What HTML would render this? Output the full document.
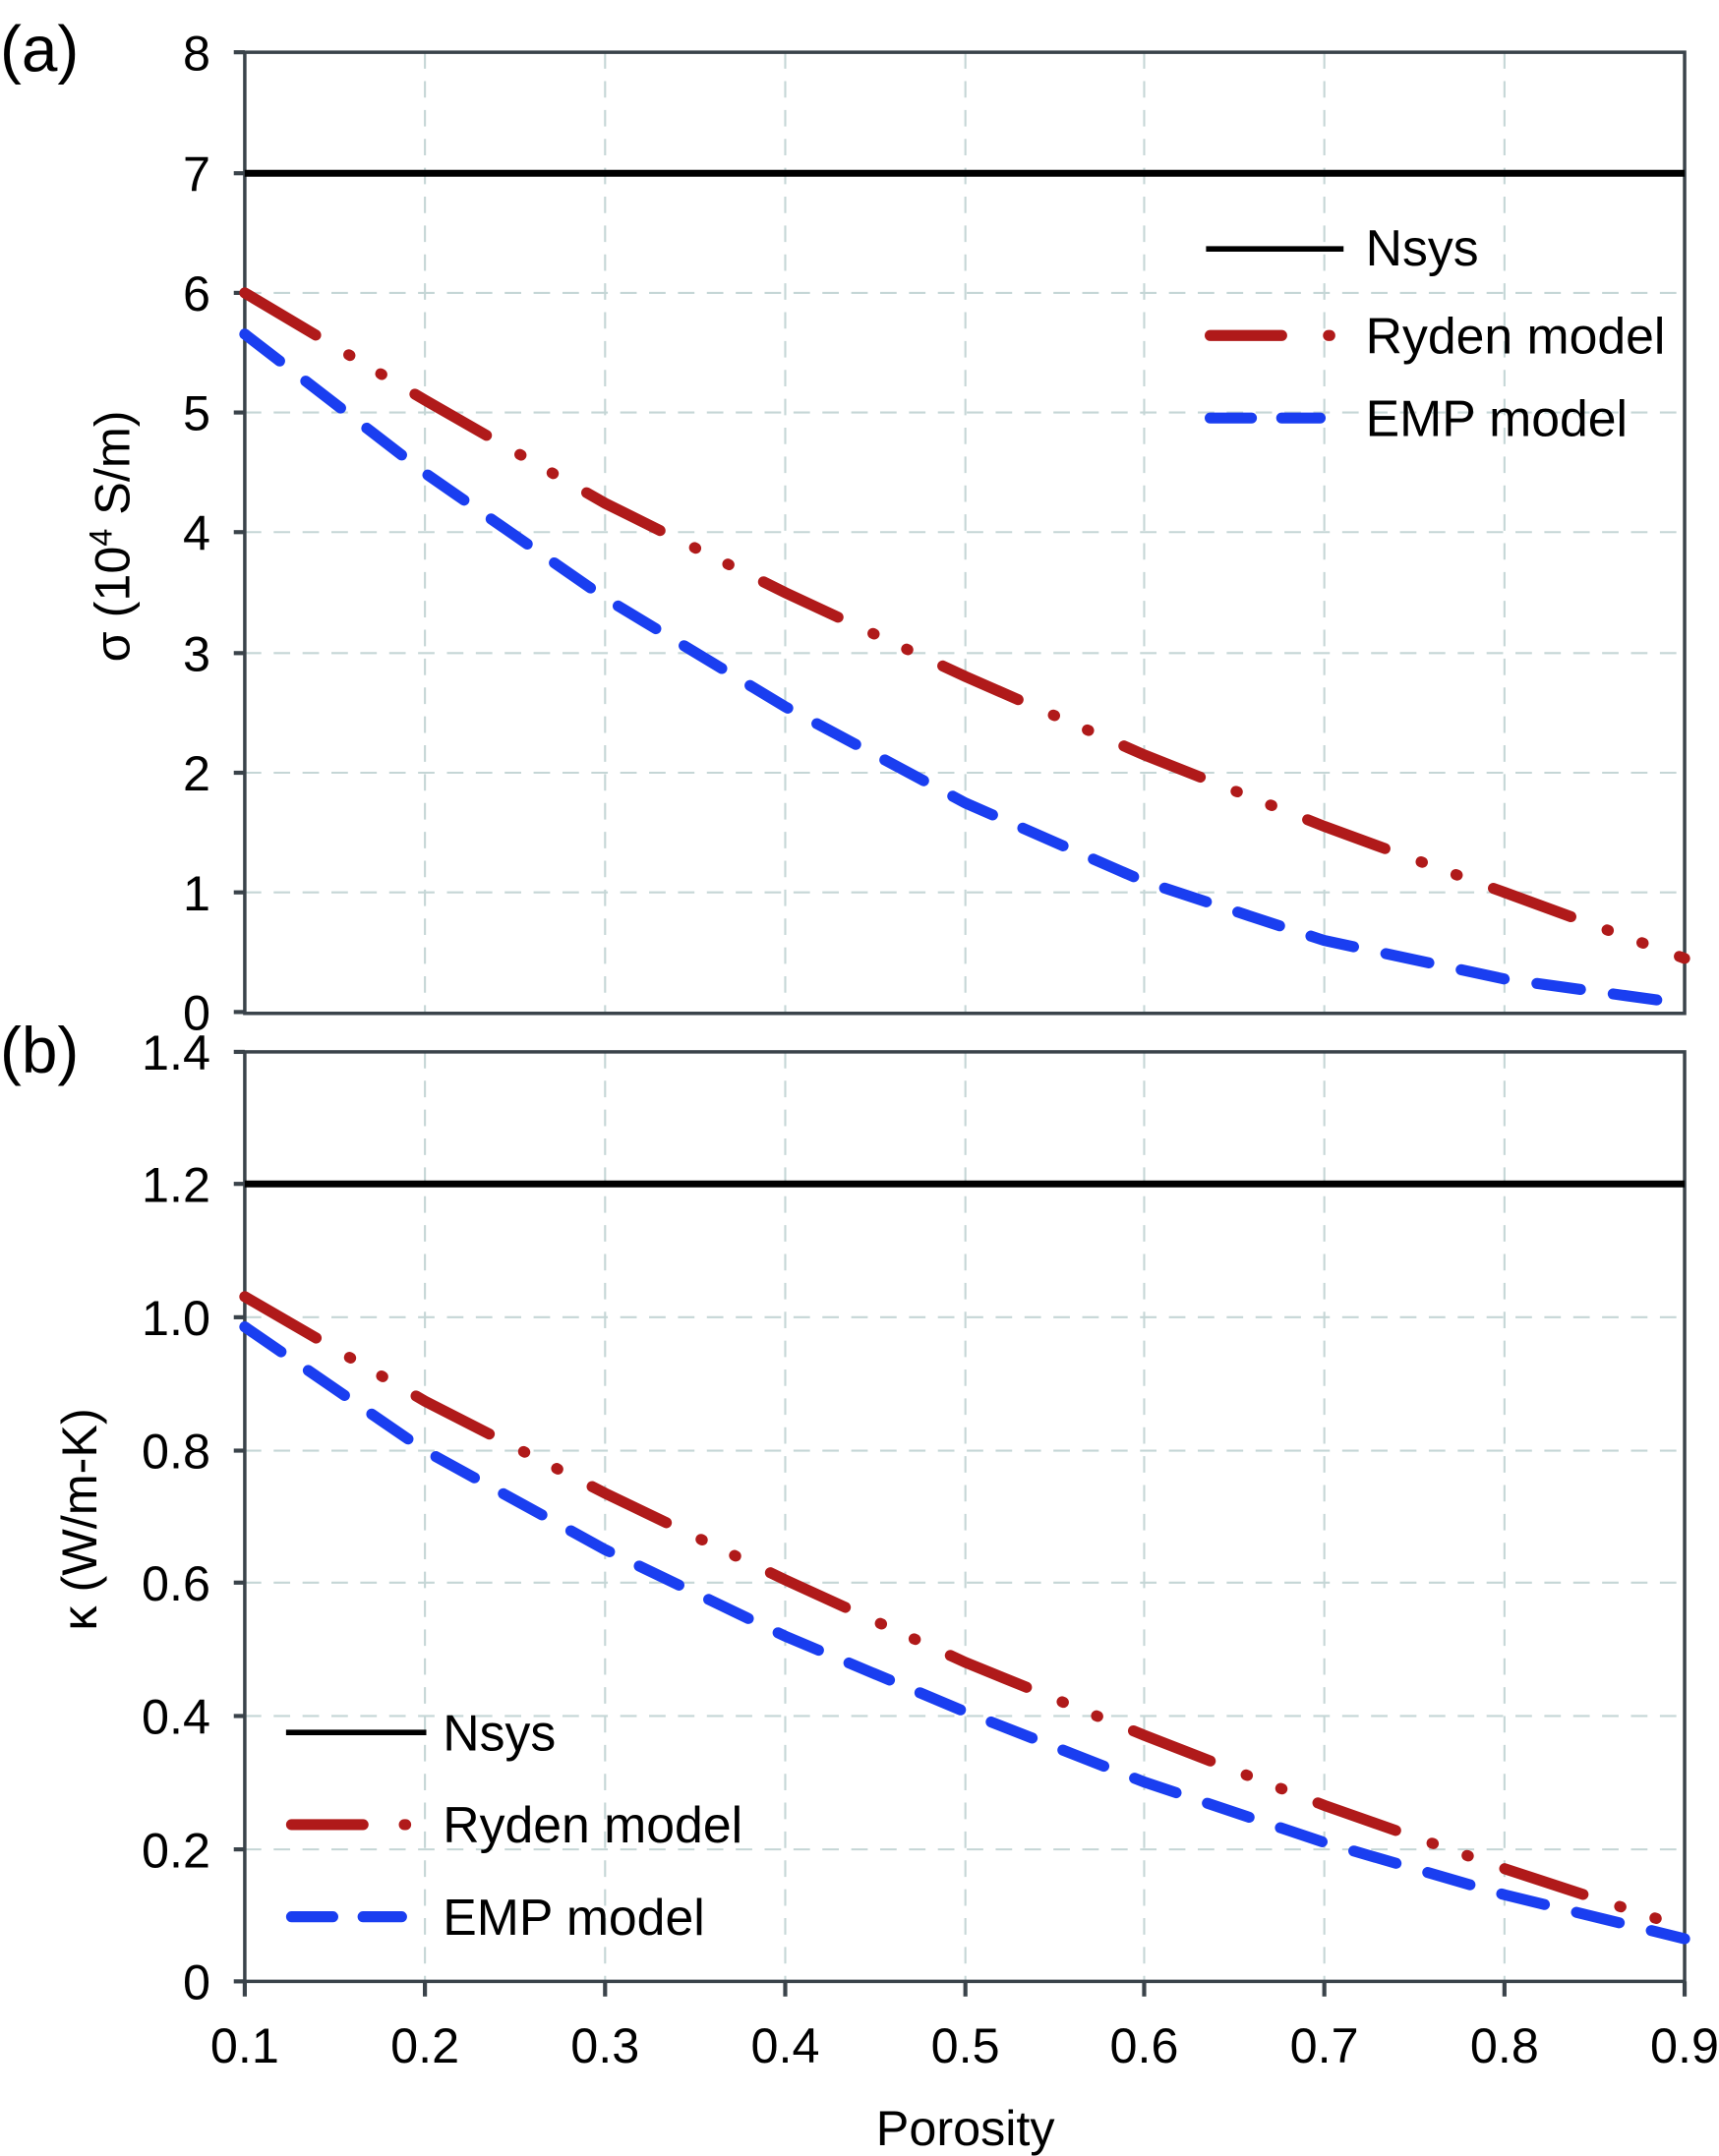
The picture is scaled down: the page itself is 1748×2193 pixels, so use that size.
<!DOCTYPE html>
<html><head><style>body{margin:0;background:#fff}svg{display:block}</style></head><body>
<svg width="1748" height="2193" viewBox="0 0 1250 1568" preserveAspectRatio="none" xmlns="http://www.w3.org/2000/svg" font-family="Liberation Sans, sans-serif">
<g stroke="#c5d6d6" stroke-width="1.5" stroke-dasharray="12 9">
<line x1="309" y1="38" x2="309" y2="737"/><line x1="440" y1="38" x2="440" y2="737"/><line x1="571" y1="38" x2="571" y2="737"/><line x1="702" y1="38" x2="702" y2="737"/><line x1="832" y1="38" x2="832" y2="737"/><line x1="963" y1="38" x2="963" y2="737"/><line x1="1094" y1="38" x2="1094" y2="737"/>
<line x1="178" y1="213" x2="1225" y2="213"/><line x1="178" y1="300" x2="1225" y2="300"/><line x1="178" y1="387" x2="1225" y2="387"/><line x1="178" y1="475" x2="1225" y2="475"/><line x1="178" y1="562" x2="1225" y2="562"/><line x1="178" y1="649" x2="1225" y2="649"/>
<line x1="309" y1="765" x2="309" y2="1441"/><line x1="440" y1="765" x2="440" y2="1441"/><line x1="571" y1="765" x2="571" y2="1441"/><line x1="702" y1="765" x2="702" y2="1441"/><line x1="832" y1="765" x2="832" y2="1441"/><line x1="963" y1="765" x2="963" y2="1441"/><line x1="1094" y1="765" x2="1094" y2="1441"/>
<line x1="178" y1="958" x2="1225" y2="958"/><line x1="178" y1="1055" x2="1225" y2="1055"/><line x1="178" y1="1151" x2="1225" y2="1151"/><line x1="178" y1="1248" x2="1225" y2="1248"/><line x1="178" y1="1345" x2="1225" y2="1345"/>
</g>
<g fill="none" stroke="#3a434a" stroke-width="2.5">
<rect x="178" y="38" width="1047" height="699"/>
<rect x="178" y="765" width="1047" height="676"/>
</g>
<g stroke="#3a434a" stroke-width="3">
<line x1="170" y1="38" x2="178" y2="38"/><line x1="170" y1="126" x2="178" y2="126"/><line x1="170" y1="213" x2="178" y2="213"/><line x1="170" y1="300" x2="178" y2="300"/><line x1="170" y1="387" x2="178" y2="387"/><line x1="170" y1="475" x2="178" y2="475"/><line x1="170" y1="562" x2="178" y2="562"/><line x1="170" y1="649" x2="178" y2="649"/><line x1="170" y1="736" x2="178" y2="736"/>
<line x1="170" y1="765" x2="178" y2="765"/><line x1="170" y1="861" x2="178" y2="861"/><line x1="170" y1="958" x2="178" y2="958"/><line x1="170" y1="1055" x2="178" y2="1055"/><line x1="170" y1="1151" x2="178" y2="1151"/><line x1="170" y1="1248" x2="178" y2="1248"/><line x1="170" y1="1345" x2="178" y2="1345"/><line x1="170" y1="1441" x2="178" y2="1441"/>
<line x1="178" y1="1441" x2="178" y2="1452"/><line x1="309" y1="1441" x2="309" y2="1452"/><line x1="440" y1="1441" x2="440" y2="1452"/><line x1="571" y1="1441" x2="571" y2="1452"/><line x1="702" y1="1441" x2="702" y2="1452"/><line x1="832" y1="1441" x2="832" y2="1452"/><line x1="963" y1="1441" x2="963" y2="1452"/><line x1="1094" y1="1441" x2="1094" y2="1452"/><line x1="1225" y1="1441" x2="1225" y2="1452"/>
</g>
<g font-size="36" fill="#000" text-anchor="end">
<text x="153" y="51">8</text><text x="153" y="139">7</text><text x="153" y="226">6</text><text x="153" y="313">5</text><text x="153" y="400">4</text><text x="153" y="488">3</text><text x="153" y="575">2</text><text x="153" y="662">1</text><text x="153" y="749">0</text>
<text x="153" y="778">1.4</text><text x="153" y="874">1.2</text><text x="153" y="971">1.0</text><text x="153" y="1068">0.8</text><text x="153" y="1164">0.6</text><text x="153" y="1261">0.4</text><text x="153" y="1358">0.2</text><text x="153" y="1454">0</text>
</g>
<g font-size="36" fill="#000" text-anchor="middle">
<text x="178" y="1500">0.1</text><text x="309" y="1500">0.2</text><text x="440" y="1500">0.3</text><text x="571" y="1500">0.4</text><text x="702" y="1500">0.5</text><text x="832" y="1500">0.6</text><text x="963" y="1500">0.7</text><text x="1094" y="1500">0.8</text><text x="1225" y="1500">0.9</text>
<text x="702" y="1560">Porosity</text>
<text transform="translate(94,390) rotate(-90)">σ (10<tspan font-size="23" dy="-13">4</tspan><tspan dy="13"> S/m)</tspan></text>
<text transform="translate(70,1105) rotate(-90)">κ (W/m-K)</text>
</g>
<text x="0" y="52" font-size="47">(a)</text>
<text x="0" y="780" font-size="47">(b)</text>
<line x1="178" y1="126" x2="1225" y2="126" stroke="#000" stroke-width="5"/>
<line x1="178" y1="861" x2="1225" y2="861" stroke="#000" stroke-width="5"/>
<g fill="none" stroke-width="8" stroke-linecap="round">
<polyline stroke="#b01a1a" stroke-dasharray="60 28 1 26 1 28" points="178,213 309,291 440,366 571,431 702,492 832,549 963,601 1094,649 1225,697"/>
<polyline stroke="#1a3ef0" stroke-dasharray="32 24" points="178,243 309,344 440,435 571,514 702,584 832,641 963,684 1094,712 1225,730"/>
<polyline stroke="#b01a1a" stroke-dasharray="60 28 1 26 1 28" points="178,943 309,1019 440,1086 571,1149 702,1209 832,1262 963,1313 1094,1359 1225,1402"/>
<polyline stroke="#1a3ef0" stroke-dasharray="32 24" points="178,965 309,1055 440,1127 571,1190 702,1245 832,1296 963,1340 1094,1378 1225,1410"/>
</g>
<line x1="877" y1="181" x2="977" y2="181" stroke="#000" stroke-width="4"/>
<line x1="880" y1="244" x2="967" y2="244" stroke="#b01a1a" stroke-width="8" stroke-linecap="round" stroke-dasharray="52 34 1 40"/>
<line x1="880" y1="304" x2="960" y2="304" stroke="#1a3ef0" stroke-width="8" stroke-linecap="round" stroke-dasharray="30 22"/>
<g font-size="37" fill="#000"><text x="993" y="193">Nsys</text><text x="993" y="257">Ryden model</text><text x="993" y="317">EMP model</text></g>
<line x1="208" y1="1260" x2="310" y2="1260" stroke="#000" stroke-width="4"/>
<line x1="212" y1="1327" x2="295" y2="1327" stroke="#b01a1a" stroke-width="8" stroke-linecap="round" stroke-dasharray="52 30 1 40"/>
<line x1="212" y1="1394" x2="292" y2="1394" stroke="#1a3ef0" stroke-width="8" stroke-linecap="round" stroke-dasharray="30 22"/>
<g font-size="37" fill="#000"><text x="322" y="1273">Nsys</text><text x="322" y="1340">Ryden model</text><text x="322" y="1407">EMP model</text></g>
</svg>
</body></html>
